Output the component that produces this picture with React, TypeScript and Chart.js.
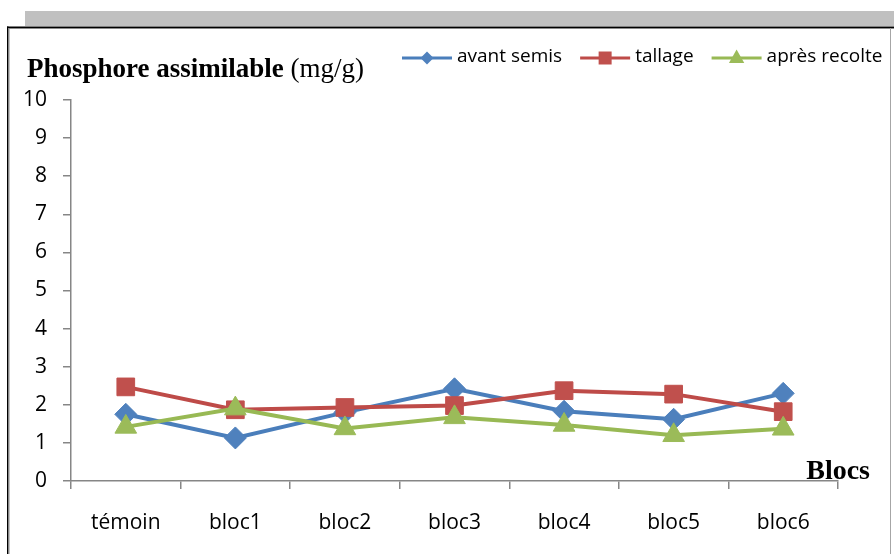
import React, { useEffect, useRef } from "react";
import { Chart, registerables } from "chart.js";

Chart.register(...registerables);

const categories = ["témoin", "bloc1", "bloc2", "bloc3", "bloc4", "bloc5", "bloc6"];
const avantSemis = [1.75, 1.13, 1.8, 2.42, 1.83, 1.62, 2.3];
const tallage = [2.47, 1.87, 1.93, 1.98, 2.37, 2.28, 1.82];
const apresRecolte = [1.42, 1.9, 1.38, 1.67, 1.47, 1.2, 1.37];
const seriesNames = ["avant semis", "tallage", "après recolte"];
const yTicks = [0, 1, 2, 3, 4, 5, 6, 7, 8, 9, 10];

const BLUE_LINE = "#4A7EBB";
const BLUE_FILL = "#4F81BD";
const RED_LINE = "#BE4B48";
const RED_FILL = "#C0504D";
const GREEN_LINE = "#98B954";
const GREEN_FILL = "#9BBB59";
const AXIS = "#868686";
const SANS = "'Open Sans', 'Noto Sans', sans-serif";
const SERIF = "'Liberation Serif', 'Times New Roman', serif";

function drawMarker(ctx: CanvasRenderingContext2D, style: string, x: number, y: number, r: number, color: string) {
  ctx.save();
  ctx.fillStyle = color;
  ctx.beginPath();
  if (style === "diamond") {
    ctx.moveTo(x - r, y);
    ctx.lineTo(x, y - r);
    ctx.lineTo(x + r, y);
    ctx.lineTo(x, y + r);
  } else if (style === "square") {
    ctx.rect(x - r, y - r, 2 * r, 2 * r);
  } else {
    ctx.moveTo(x, y - r);
    ctx.lineTo(x + r * 0.9, y + r * 0.6);
    ctx.lineTo(x - r * 0.9, y + r * 0.6);
  }
  ctx.closePath();
  ctx.fill();
  ctx.restore();
}

const decorPlugin = {
  id: "decor",
  beforeDraw(chart: any) {
    const ctx = chart.ctx as CanvasRenderingContext2D;
    const W = chart.width;
    const H = chart.height;
    ctx.save();
    ctx.fillStyle = "#FFFFFF";
    ctx.fillRect(0, 0, W, H);
    ctx.fillStyle = "#C0C0C0";
    ctx.fillRect(25, 11, W - 25, 15);
    ctx.fillStyle = "#000000";
    ctx.fillRect(7, 26.5, W - 7, 1.5);
    ctx.fillRect(7, 26.5, 1.5, H - 26.5);
    ctx.fillStyle = "#8A8A8A";
    ctx.fillRect(8.5, 28, W - 8.5, 1);
    ctx.fillRect(8.5, 28, 1, H - 28);
    ctx.fillStyle = "#A6A6A6";
    ctx.fillRect(890, 28, 1, H - 28);
    ctx.restore();
  },
  afterDraw(chart: any) {
    const ctx = chart.ctx as CanvasRenderingContext2D;
    ctx.save();
    // title
    ctx.fillStyle = "#000";
    ctx.textBaseline = "alphabetic";
    ctx.textAlign = "left";
    ctx.font = `bold 27px ${SERIF}`;
    const t1 = "Phosphore assimilable";
    ctx.fillText(t1, 27, 77);
    const w1 = ctx.measureText(t1).width;
    ctx.font = `27px ${SERIF}`;
    ctx.fillText(" (mg/g)", 27 + w1, 77);
    // axis title
    ctx.font = `bold 28px ${SERIF}`;
    ctx.textAlign = "right";
    ctx.fillText("Blocs", 870, 479);
    // legend
    const items = [
      { name: seriesNames[0], line: BLUE_LINE, fill: BLUE_FILL, style: "diamond", r: 6.5 },
      { name: seriesNames[1], line: RED_LINE, fill: RED_FILL, style: "square", r: 6.5 },
      { name: seriesNames[2], line: GREEN_LINE, fill: GREEN_FILL, style: "triangle", r: 8.5 },
    ];
    let x = 402;
    const ly = 58;
    ctx.font = `19px ${SANS}`;
    ctx.textAlign = "left";
    ctx.textBaseline = "middle";
    for (const it of items) {
      ctx.strokeStyle = it.line;
      ctx.lineWidth = 3;
      ctx.beginPath();
      ctx.moveTo(x, ly);
      ctx.lineTo(x + 50, ly);
      ctx.stroke();
      drawMarker(ctx, it.style, x + 25, ly, it.r, it.fill);
      ctx.fillStyle = "#000";
      ctx.fillText(it.name, x + 55, ly - 1);
      const tw = ctx.measureText(it.name).width;
      x = x + 55 + tw + 18;
    }
    ctx.restore();
  },
};

export default function App() {
  const ref = useRef<HTMLCanvasElement | null>(null);
  useEffect(() => {
    document.body.style.margin = "0";
    const canvas = ref.current!;
    const chart = new Chart(canvas, {
      type: "line",
      data: {
        labels: categories,
        datasets: [
          {
            label: seriesNames[0],
            data: avantSemis,
            borderColor: BLUE_LINE,
            backgroundColor: BLUE_FILL,
            pointBackgroundColor: BLUE_FILL,
            pointBorderColor: BLUE_FILL,
            pointStyle: "rectRot",
            pointRadius: 11,
            pointBorderWidth: 1,
            borderWidth: 4,
            tension: 0,
            order: 3,
          },
          {
            label: seriesNames[1],
            data: tallage,
            borderColor: RED_LINE,
            backgroundColor: RED_FILL,
            pointBackgroundColor: RED_FILL,
            pointBorderColor: RED_FILL,
            pointStyle: "rect",
            pointRadius: 12.5,
            pointBorderWidth: 1,
            borderWidth: 4,
            tension: 0,
            order: 2,
          },
          {
            label: seriesNames[2],
            data: apresRecolte,
            borderColor: GREEN_LINE,
            backgroundColor: GREEN_FILL,
            pointBackgroundColor: GREEN_FILL,
            pointBorderColor: GREEN_FILL,
            pointStyle: "triangle",
            pointRadius: 12.5,
            pointBorderWidth: 1,
            borderWidth: 4,
            tension: 0,
            order: 1,
          },
        ],
      },
      options: {
        responsive: false,
        animation: false,
        devicePixelRatio: 1,
        layout: { padding: { left: 0, top: 100, right: 56, bottom: 0 } },
        plugins: {
          legend: { display: false },
          title: { display: false },
          tooltip: { enabled: false },
        },
        scales: {
          x: {
            type: "category",
            offset: true,
            grid: {
              offset: true,
              drawOnChartArea: false,
              drawTicks: true,
              tickLength: 8,
              color: AXIS,
              lineWidth: 1.5,
            },
            border: { display: true, color: AXIS, width: 1.5 },
            ticks: {
              color: "#000",
              font: { family: SANS, size: 21 },
              padding: 21,
              maxRotation: 0,
              autoSkip: false,
            },
            afterFit: (scale: any) => {
              scale.height = 73;
            },
          },
          y: {
            min: 0,
            max: 10,
            afterBuildTicks: (scale: any) => {
              scale.ticks = yTicks.map((v) => ({ value: v }));
            },
            grid: {
              drawOnChartArea: false,
              drawTicks: true,
              tickLength: 8,
              color: AXIS,
              lineWidth: 1.5,
            },
            border: { display: true, color: AXIS, width: 1.5 },
            ticks: {
              color: "#000",
              font: { family: SANS, size: 21 },
              padding: 16,
            },
            afterFit: (scale: any) => {
              scale.width = 71;
            },
          },
        },
      },
      plugins: [decorPlugin],
    });
    return () => chart.destroy();
  }, []);
  return (
    <div style={{ position: "fixed", left: 0, top: 0, width: 894, height: 554, background: "#fff" }}>
      <canvas ref={ref} width={894} height={554} style={{ display: "block", width: 894, height: 554 }} />
    </div>
  );
}
